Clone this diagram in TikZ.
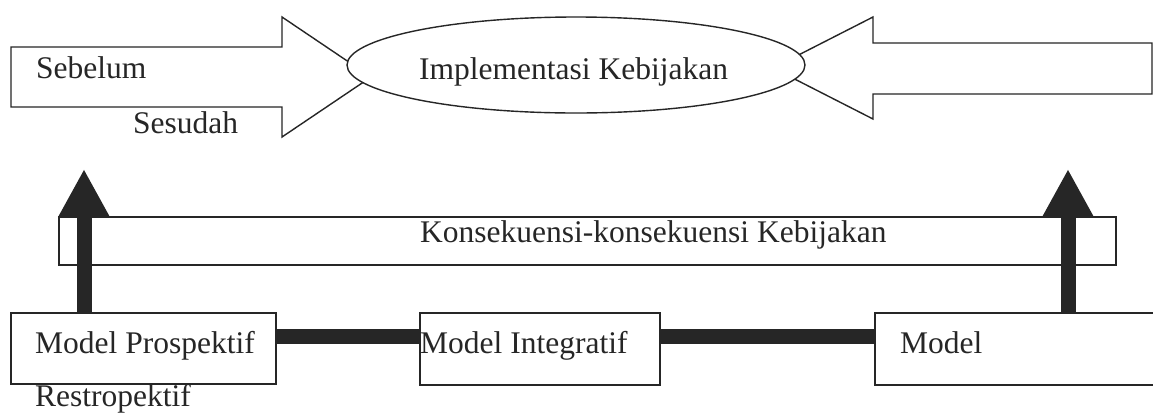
\documentclass[tikz,border=0pt]{standalone}
\usepackage{fontspec}
\setmainfont{Liberation Serif}
\usetikzlibrary{arrows.meta,shapes.geometric}
\definecolor{ink}{HTML}{262626}
\tikzset{
  outline/.style={draw=ink, line width=1.4pt, fill=white},
  lbl/.style={anchor=base west, inner sep=0pt, text=ink, font=\fontsize{31.5}{36}\selectfont},
  boxnode/.style={outline, anchor=north west, inner sep=0pt, outer sep=0pt},
  heavy/.style={draw=ink, line width=15pt},
  heavyarrow/.style={draw=ink, line width=15pt, -{Triangle[width=47pt,length=47pt]}}
}
\begin{document}
\begin{tikzpicture}[x=1pt,y=-1pt]
\clip (0,0) rectangle (1153,413);
\fill[white] (0,0) rectangle (1153,413);
% block arrows
\draw[outline] (11,47) -- (282,47) -- (282,17) -- (371,77) -- (282,137) -- (282,107) -- (11,107) -- cycle;
\draw[outline] (1152,43) -- (873,43) -- (873,17) -- (773,68) -- (873,119) -- (873,94) -- (1152,94) -- cycle;
% ellipse
\node[outline, ellipse, minimum width=458pt, minimum height=96pt, inner sep=0pt] (impl) at (576,65) {};
\node[lbl] (implt) at (419,79) {Implementasi Kebijakan};
\node[lbl] (seb) at (36,78) {Sebelum};
\node[lbl] (ses) at (133,133) {Sesudah};
% consequences bar
\node[boxnode, minimum width=1057pt, minimum height=48pt] (kons) at (59,217) {};
\node[lbl] (konst) at (420,242) {Konsekuensi-konsekuensi Kebijakan};
% model boxes
\node[boxnode, minimum width=265pt, minimum height=71pt] (lp) at (11,313) {};
\node[boxnode, minimum width=240pt, minimum height=72pt] (mi) at (420,313) {};
\node[boxnode, minimum width=290pt, minimum height=72pt] (mr) at (875,313) {};
% connectors
\coordinate (hl) at (0,336);
\draw[heavy] (lp.east |- hl) -- (mi.west |- hl);
\draw[heavy] (mi.east |- hl) -- (mr.west |- hl);
\coordinate (ltip) at (84,169);
\coordinate (rtip) at (1068,169);
\draw[heavyarrow] (ltip |- lp.north) -- (ltip);
\draw[heavyarrow] (rtip |- mr.north) -- (rtip);
% texts
\node[lbl] (lpt) at (35,353) {Model Prospektif};
\node[lbl] (mit) at (420,353) {Model Integratif};
\node[lbl] (mrt) at (900,353) {Model};
\node[lbl] (rest) at (35,406) {Restropektif};
\end{tikzpicture}
\end{document}
